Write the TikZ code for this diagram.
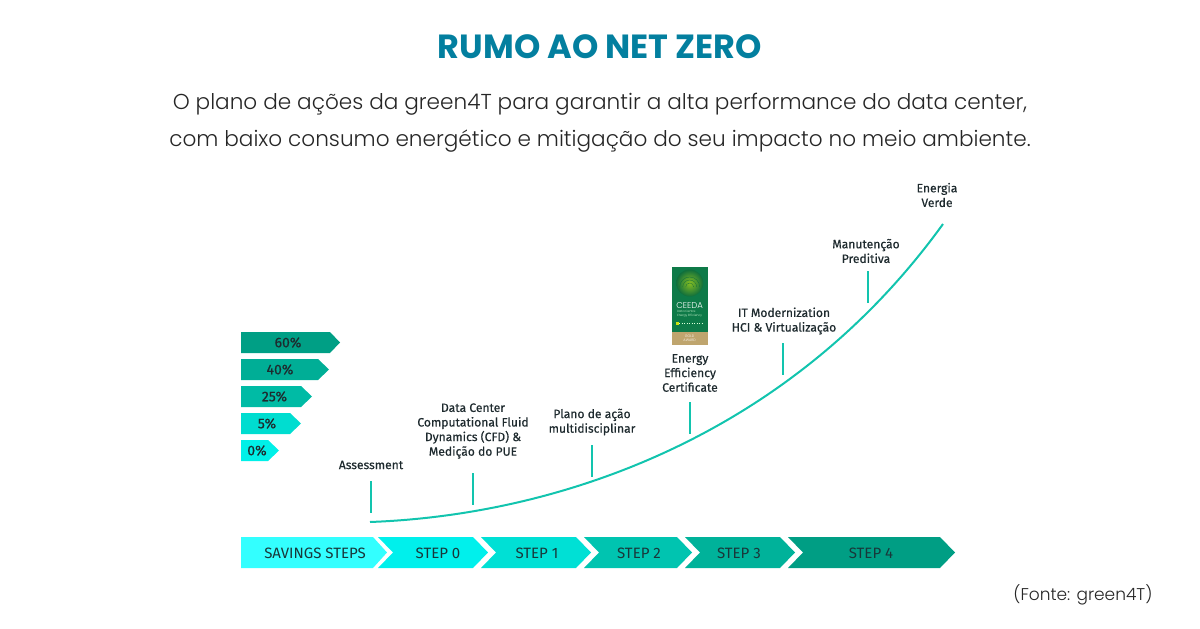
\documentclass[tikz,border=0pt]{standalone}
\usepackage{fontspec}
\usepackage{xcolor}
\setmainfont{Poppins Light}
\newfontfamily\titlefont{Poppins Bold}
\newfontfamily\labelfont{Fira Sans}[FakeBold=0.5]
\newfontfamily\stepfont{Fira Sans}
\definecolor{titleblue}{HTML}{037F9F}
\definecolor{curveteal}{HTML}{12C4AE}
\definecolor{savecol}{HTML}{33FFFF}
\definecolor{stepzero}{HTML}{00F0EC}
\definecolor{stepone}{HTML}{00E0D5}
\definecolor{steptwo}{HTML}{00C4B0}
\definecolor{stepthree}{HTML}{00B29A}
\definecolor{stepfour}{HTML}{009E84}
\definecolor{pctsixty}{HTML}{009F85}
\definecolor{pctforty}{HTML}{00AE96}
\definecolor{pcttwentyfive}{HTML}{00BBA5}
\definecolor{pctfive}{HTML}{00DDD0}
\definecolor{pctzero}{HTML}{00F0E8}
\definecolor{badgegreen}{HTML}{0E7A48}
\definecolor{badgegold}{HTML}{BFA56E}
\definecolor{badgelime}{HTML}{86BE22}
\definecolor{badgedark}{HTML}{0F6E3C}
\definecolor{inktext}{HTML}{1E2A2E}
\tikzset{
  marklabel/.style={font=\labelfont\fontsize{12.1}{14.6}\selectfont,align=center,text=inktext},
  barlabel/.style={font=\labelfont\fontsize{14}{16}\selectfont,text=inktext},
  steplabel/.style={font=\stepfont\fontsize{15}{17}\selectfont,text=inktext!85!teal},
  tick/.style={curveteal,line width=1.9pt},
}
\begin{document}
\begin{tikzpicture}[x=1pt,y=-1pt]
    \useasboundingbox (0,0) rectangle (1200,629);
    % heading
    \node[font=\titlefont\fontsize{33.5}{38}\selectfont,text=titleblue] (heading) at (600,46.5) {RUMO AO NET ZERO};
    \node[font=\fontsize{21.6}{36.5}\selectfont,align=center,text=black!85] (intro) at (600,122.5)
        {O plano de ações da green4T para garantir a alta performance do data center,\\
         com baixo consumo energético e mitigação do seu impacto no meio ambiente.};
    \node[font=\fontsize{17}{20}\selectfont,text=black!85,anchor=east] (source) at (1156,595) {(Fonte: green4T)};
    % percentage bars
    \foreach \name/\ytop/\xs/\xt/\xl/\col/\txt in {
        sixty/332/330/340/288/pctsixty/60\%,
        forty/359/318/329/280/pctforty/40\%,
        twentyfive/386/301/312/274.5/pcttwentyfive/25\%,
        five/413/290/301/267/pctfive/5\%,
        zero/440/268/279/257/pctzero/0\%} {
        \fill[\col] (241,\ytop) -- (\xs,\ytop) -- (\xt,\ytop+10.5) -- (\xs,\ytop+21) -- (241,\ytop+21) -- cycle;
        \node[barlabel] (bar\name) at (\xl,\ytop+10.5) {\txt};
    }
    % step arrows
    \fill[savecol] (241,537) -- (373,537) -- (387,552.5) -- (373,568) -- (241,568) -- cycle;
    \node[steplabel] (savings) at (315,553) {SAVINGS STEPS};
    \foreach \name/\xa/\xb/\xs/\xt/\xl/\col/\txt in {
        stepA/378/393/473/488/438/stepzero/STEP 0,
        stepB/481/496/576/591/537/stepone/STEP 1,
        stepC/584/599/677/692/639/steptwo/STEP 2,
        stepD/685/700/780/795/739/stepthree/STEP 3,
        stepE/788/803/940/955/871/stepfour/STEP 4} {
        \fill[\col] (\xa,537) -- (\xs,537) -- (\xt,552.5) -- (\xs,568) -- (\xa,568) -- (\xb,552.5) -- cycle;
        \node[steplabel] (\name) at (\xl,553) {\txt};
    }
    % curve
    \coordinate (curvestart) at (370,522);
    \coordinate (curveend) at (943,224);
    \draw[curveteal,line width=2pt] (curvestart) .. controls (560,515) and (790,436) .. (curveend);
    % markers
    \foreach \xm/\ya/\yb in {371/481/513, 473/473/505, 592/445/477, 690/402/434, 783/343/375, 868/271/303} {
        \coordinate (up\xm) at (\xm,\ya);
        \coordinate (down\xm) at (\xm,\yb);
        \draw[tick] (up\xm) -- (down\xm);
    }
    \node[marklabel] (assess) at (371,465) {Assessment};
    \node[marklabel] (cfd) at (473,431) {Data Center\\Computational Fluid\\Dynamics (CFD) \&\\Medição do PUE};
    \node[marklabel] (plano) at (592,422) {Plano de ação\\multidisciplinar};
    \node[marklabel] (cert) at (690,373) {Energy\\Efficiency\\Certificate};
    \node[marklabel] (modern) at (784,321) {IT Modernization\\HCI \& Virtualização};
    \node[marklabel] (manut) at (866,251) {Manutenção\\Preditiva};
    \node[marklabel] (verde) at (937,195) {Energia\\Verde};
    % badge
    \fill[badgegreen] (672,267) rectangle (707.5,332);
    \fill[badgegold] (672,332) rectangle (707.5,345);
    \shade[inner color=badgelime,outer color=badgedark] (689.7,283) circle (13.5);
    \foreach \r in {4,7,10} {
        \draw[badgedark,line width=0.3pt] (689.7-\r,287) arc (180:360:\r);
    }
    \node[font=\fontsize{8.5}{9}\selectfont,text=white,inner sep=0pt] (ceeda) at (689.7,305.5) {CEEDA};
    \node[font=\fontsize{3}{4}\selectfont,text=white!85!green,inner sep=0pt,align=left] (ceedasub) at (689.7,314) {Data Centre\\Energy Efficiency};
    \draw[white!85!green,line width=0.5pt,dotted] (679,323.5) -- (702,323.5);
    \fill[yellow!80!green] (676,322) rectangle (679,325);
    \node[font=\fontsize{3.5}{4.5}\selectfont,text=white,inner sep=0pt,align=center] (gold) at (689.7,338.5) {GOLD\\AWARD};
\end{tikzpicture}
\end{document}
